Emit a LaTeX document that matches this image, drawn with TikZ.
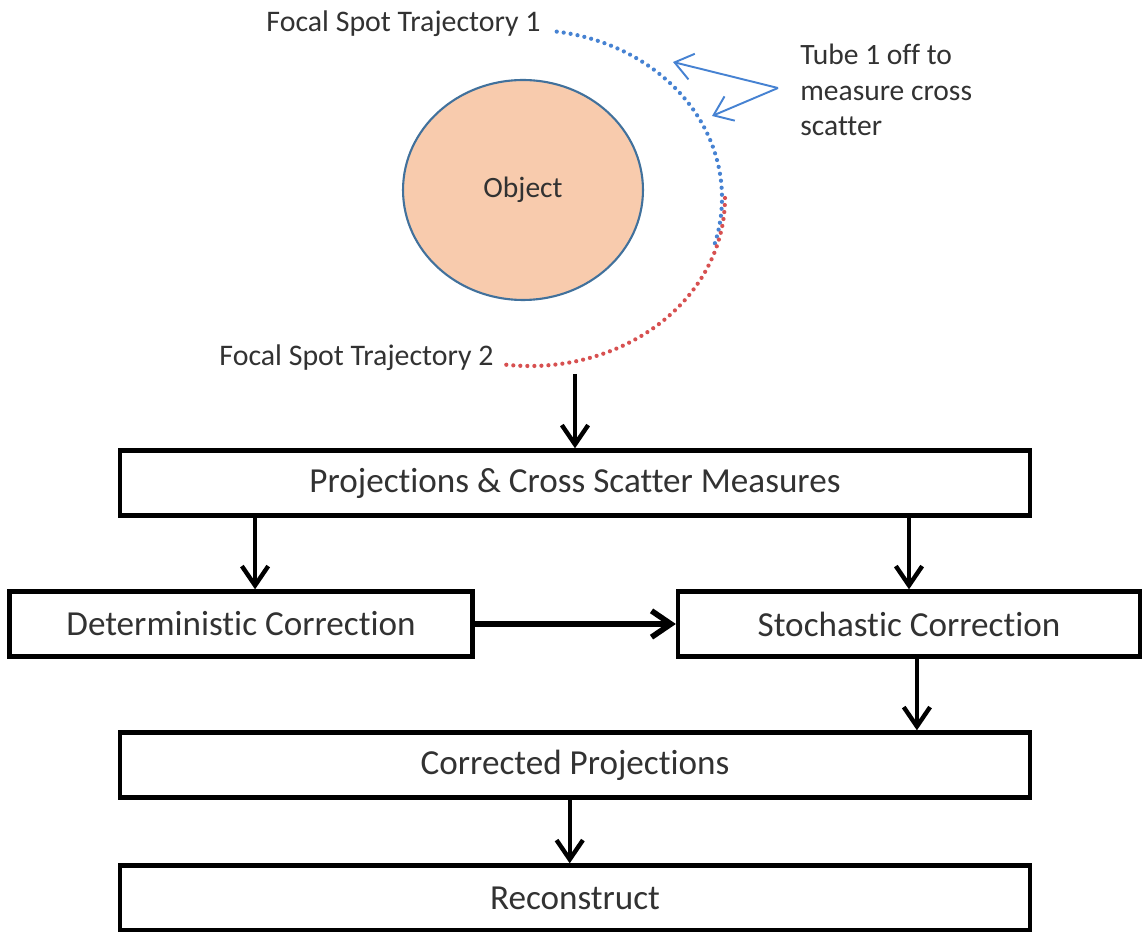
\documentclass[tikz,border=0pt]{standalone}
\usepackage{fontspec}
\setmainfont{Carlito}[Ligatures={NoCommon}]
\usetikzlibrary{arrows.meta,shapes.geometric}

\definecolor{objfill}{RGB}{248,203,173}
\definecolor{objline}{RGB}{65,113,156}
\definecolor{trajblue}{RGB}{70,130,210}
\definecolor{trajred}{RGB}{215,80,80}
\definecolor{txtgray}{RGB}{50,50,50}

\tikzset{
  stage/.style={draw,line width=2.5pt,minimum height=1.3cm,inner sep=0pt,
    font=\fontsize{20}{24}\selectfont,text=txtgray},
  flow/.style={line width=2.5pt,-{Straight Barb[length=11pt,width=15pt]}},
  note/.style={line width=1.1pt,trajblue,-{Straight Barb[length=10pt,width=15pt]}},
  dotline/.style={line width=2.4pt,line cap=round,dash pattern=on 0pt off 4pt},
  label/.style={font=\fontsize{17}{20}\selectfont,text=txtgray,inner sep=0pt}
}

\begin{document}
\begin{tikzpicture}[x=0.02cm,y=-0.02cm]
\useasboundingbox (0,0) rectangle (1144,932);

% source geometry
\node [draw=objline,fill=objfill,ellipse,line width=1.2pt,minimum width=4.8cm,minimum height=4.4cm,
       font=\fontsize{16.8}{20}\selectfont,text=txtgray] (object) at (523,190) {Object};
\coordinate (c) at (530,198);
\draw [dotline,trajblue] (c) ++(-82:192 and 168) arc[start angle=-82,end angle=16,x radius=192,y radius=168];
\draw [dotline,trajred]  (c) ++(0:195 and 168) arc[start angle=0,end angle=97,x radius=195,y radius=168];

\node [label,anchor=east] (traj1) at (541,24)  {Focal Spot Trajectory 1};
\node [label,anchor=east] (traj2) at (494,358) {Focal Spot Trajectory 2};

\node [label,anchor=west,align=left,font=\fontsize{16.8}{20.4}\selectfont] (tube) at (800,90)
      {Tube 1 off to\\ measure cross\\ scatter};
\coordinate (fork) at (778,88);
\coordinate (tip1) at (673,62);
\coordinate (tip2) at (712,116);
\draw [note] (fork) -- (tip1);
\draw [note] (fork) -- (tip2);

% processing chain
\node [stage,minimum width=18.2cm] (pcs) at (575,483) {Projections \& Cross Scatter Measures};
\node [stage,minimum width=9.26cm] (dc)  at (241,624) {Deterministic Correction};
\node [stage,minimum width=9.24cm] (sc)  at (909,624) {Stochastic Correction};
\node [stage,minimum width=18.2cm] (cp)  at (575,765) {Corrected Projections};
\node [stage,minimum width=18.2cm] (rec) at (575,898) {Reconstruct};

\coordinate (traj) at (575,374);
\draw [flow] (traj) -- (traj |- pcs.north);
\draw [flow] ([xshift=8pt]dc.north |- pcs.south) -- ([xshift=8pt]dc.north);
\draw [flow] (sc.north |- pcs.south) -- (sc.north);
\draw [flow,line width=3.2pt] (dc.east) -- (sc.west);
\draw [flow] ([xshift=4.5pt]sc.south) -- ([xshift=4.5pt]sc.south |- cp.north);
\draw [flow] ([xshift=-3pt]cp.south) -- ([xshift=-3pt]rec.north);
\end{tikzpicture}
\end{document}
